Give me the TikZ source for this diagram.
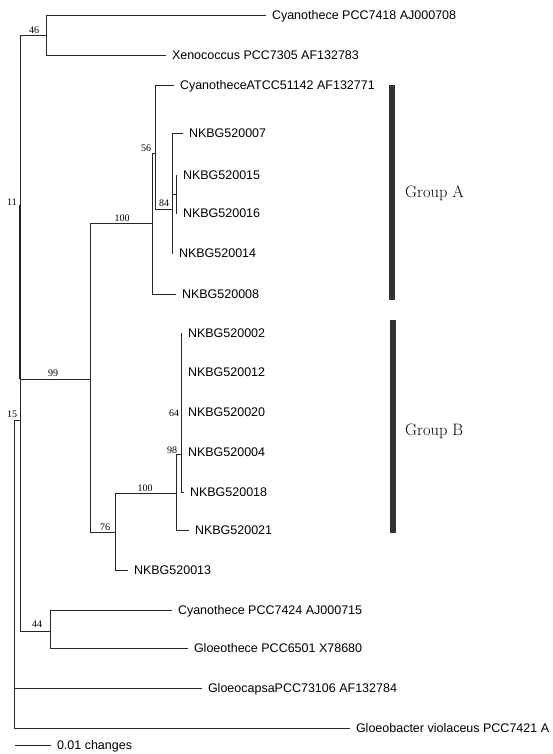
\documentclass[tikz,border=0pt]{standalone}
\usepackage{fontspec}
\newfontfamily\leaffont{Liberation Sans}
\newfontfamily\bootfont{Liberation Serif}
\usetikzlibrary{positioning}

\begin{document}
\begin{tikzpicture}[
    x=1pt, y=-1pt,
    branch/.style={draw=black!85, line width=0.9pt},
    leaf/.style={anchor=west, inner sep=0pt, outer xsep=6pt, text height=9pt, text depth=0pt,
      font=\leaffont\fontsize{12.5}{14}\selectfont},
    boot/.style={inner sep=0pt, font=\bootfont\fontsize{10}{12}\selectfont},
    grpbar/.style={fill=black!80, draw=none, inner sep=0pt, minimum width=6pt},
    grp/.style={anchor=west, inner sep=0pt, text height=11pt, text depth=0pt,
      font=\fontsize{16.5}{19}\selectfont}
  ]
    \useasboundingbox (0,0) rectangle (552,754);

    % internal nodes
    \coordinate (n15) at (14,420);
    \coordinate (n11) at (20,420);
    \coordinate (n46) at (46,35);
    \coordinate (n99) at (90,379);
    \coordinate (nA) at (152,223);
    \coordinate (n56) at (155,153);
    \coordinate (n84) at (172,209);
    \coordinate (n1516) at (176,194);
    \coordinate (n76) at (115,532);
    \coordinate (nB) at (176,493);
    \coordinate (n98) at (181,454);
    \coordinate (n44) at (50,631);

    % leaves
    \node[leaf] (cy7418) at (266,15) {Cyanothece PCC7418 AJ000708};
    \node[leaf] (xeno) at (166,55) {Xenococcus PCC7305 AF132783};
    \node[leaf] (cyatcc) at (174,85) {CyanotheceATCC51142 AF132771};
    \node[leaf] (k07) at (183,133) {NKBG520007};
    \node[leaf] (k15) at (177,175) {NKBG520015};
    \node[leaf] (k16) at (177,213) {NKBG520016};
    \node[leaf] (k14) at (173,253) {NKBG520014};
    \node[leaf] (k08) at (176,294) {NKBG520008};
    \node[leaf] (k02) at (182,333) {NKBG520002};
    \node[leaf] (k12) at (182,372) {NKBG520012};
    \node[leaf] (k20) at (182,412) {NKBG520020};
    \node[leaf] (k04) at (182,452) {NKBG520004};
    \node[leaf] (k18) at (184,492) {NKBG520018};
    \node[leaf] (k21) at (189,530) {NKBG520021};
    \node[leaf] (k13) at (128,570) {NKBG520013};
    \node[leaf] (cy7424) at (172,610) {Cyanothece PCC7424 AJ000715};
    \node[leaf] (gl6501) at (188,648) {Gloeothece PCC6501 X78680};
    \node[leaf] (gcap) at (202,688) {GloeocapsaPCC73106 AF132784};
    \node[leaf] (gbac) at (350,728) {Gloeobacter violaceus PCC7421 A};

    % branches
    \draw[branch] (n15) -- (n11);
    \draw[branch] (n15) |- (gcap.west);
    \draw[branch] (n15) |- (gbac.west);
    \draw[branch] (n11) |- (n46);
    \draw[branch] (n11) |- (n99);
    \draw[branch] (n11) |- (n44);
    \coordinate (thk) at (20,205);
    \draw[branch, line width=2.6pt] (thk) -- (thk |- n99);
    \draw[branch] (n46) |- (cy7418.west);
    \draw[branch] (n46) |- (xeno.west);
    \draw[branch] (n99) |- (nA);
    \draw[branch] (n99) |- (n76);
    \draw[branch] (nA) |- (n56);
    \draw[branch] (nA) |- (k08.west);
    \draw[branch] (n56) |- (cyatcc.west);
    \draw[branch] (n56) |- (n84);
    \draw[branch] (n84) |- (k07.west);
    \draw[branch] (n84) |- (n1516);
    \draw[branch] (n84) |- (k14.west);
    \draw[branch] (n1516) |- (k15.west);
    \draw[branch] (n1516) |- (k16.west);
    \draw[branch] (n76) |- (nB);
    \draw[branch] (n76) |- (k13.west);
    \draw[branch] (nB) |- (n98);
    \draw[branch] (nB) |- (k21.west);
    \draw[branch] (n98) |- (k02.west);
    \draw[branch] (n98) |- (k12.west);
    \draw[branch] (n98) |- (k20.west);
    \draw[branch] (n98) |- (k04.west);
    \draw[branch] (n98) |- (k18.west);
    \draw[branch] (n44) |- (cy7424.west);
    \draw[branch] (n44) |- (gl6501.west);

    % bootstrap values
    \node[boot] (b46) at (34,30) {46};
    \node[boot] (b11) at (12,202) {11};
    \node[boot] (b15) at (12,414) {15};
    \node[boot] (b99) at (53,373) {99};
    \node[boot] (b100a) at (122,218) {100};
    \node[boot] (b56) at (146,148) {56};
    \node[boot] (b84) at (164,203) {84};
    \node[boot] (b64) at (174,413) {64};
    \node[boot] (b98) at (172,450) {98};
    \node[boot] (b100b) at (145,488) {100};
    \node[boot] (b76) at (105,527) {76};
    \node[boot] (b44) at (37,624) {44};

    % groups
    \node[grpbar, minimum height=215pt] (barA) at (392,192.5) {};
    \node[grpbar, minimum height=213pt] (barB) at (393,426.5) {};
    \node[grp] (grpA) at (405,192) {Group A};
    \node[grp] (grpB) at (405,430) {Group B};

    % scale bar
    \coordinate (sc) at (15,745);
    \node[leaf] (scl) at (51,745) {0.01 changes};
    \draw[branch] (sc) -- (scl.west);
  \end{tikzpicture}
\end{document}
